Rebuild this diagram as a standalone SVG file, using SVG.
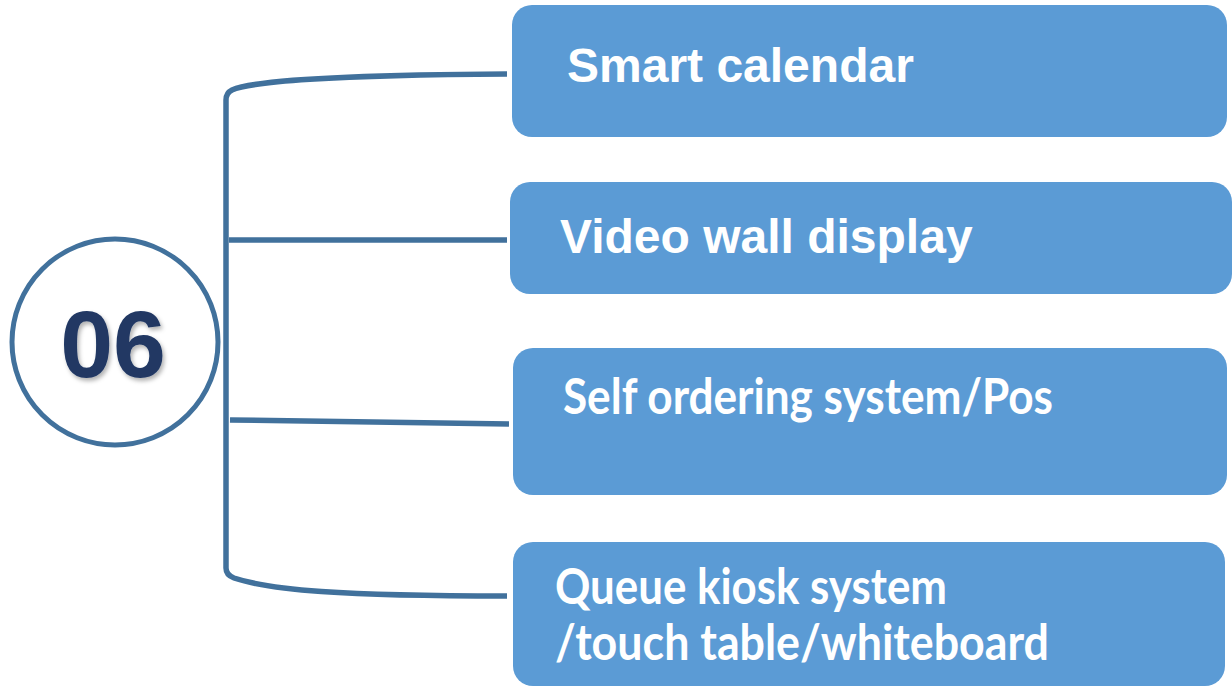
<svg xmlns="http://www.w3.org/2000/svg" width="1232" height="686" viewBox="0 0 1232 686">
  <defs>
    <filter id="shadow" x="-20%" y="-20%" width="140%" height="140%">
      <feDropShadow dx="2" dy="3" stdDeviation="2" flood-color="#000000" flood-opacity="0.3"/>
    </filter>
  </defs>
  <style>
    .box { fill: #5B9BD5; }
    .conn { fill: none; stroke: #41719C; stroke-width: 5.5; }
    .arial { font-family: "Liberation Sans", Arial, sans-serif; font-weight: bold; font-size: 48px; fill: #ffffff; }
    .cal { font-family: Lato, "Open Sans", sans-serif; font-weight: bold; font-size: 49px; fill: #ffffff; }
    .num { font-family: "Liberation Sans", Arial, sans-serif; font-weight: bold; font-size: 95px; fill: #203864; }
  </style>
  <rect width="1232" height="686" fill="#ffffff"/>
  <g id="connectors">
    <path class="conn" d="M 507 74 C 330 75, 250 82, 232 90 Q 226 93 226 100 L 226 568 Q 226 575 234 578 C 270 590, 340 596, 507 596"/>
    <path class="conn" d="M 229 240 L 507 240"/>
    <path class="conn" d="M 230 420 L 509 424"/>
  </g>
  <g id="node-06">
    <circle cx="115" cy="342" r="103" fill="#ffffff" stroke="#41719C" stroke-width="5"/>
    <text class="num" x="113" y="377" text-anchor="middle" filter="url(#shadow)">06</text>
  </g>
  <g id="node-smart-calendar">
    <rect class="box" x="512" y="5" width="715" height="132" rx="20" ry="20"/>
    <text class="arial" x="567" y="82">Smart calendar</text>
  </g>
  <g id="node-video-wall">
    <rect class="box" x="510" y="182" width="722" height="112" rx="20" ry="20"/>
    <text class="arial" x="560" y="253">Video wall display</text>
  </g>
  <g id="node-self-ordering">
    <rect class="box" x="513" y="348" width="714" height="147" rx="20" ry="20"/>
    <text class="cal" x="563" y="414" textLength="490" lengthAdjust="spacingAndGlyphs">Self ordering system/Pos</text>
  </g>
  <g id="node-queue-kiosk">
    <rect class="box" x="513" y="542" width="712" height="144" rx="20" ry="20"/>
    <text class="cal" x="555" y="604" textLength="392" lengthAdjust="spacingAndGlyphs">Queue kiosk system</text>
    <text class="cal" x="555" y="660" textLength="494" lengthAdjust="spacingAndGlyphs">/touch table/whiteboard</text>
  </g>
</svg>
